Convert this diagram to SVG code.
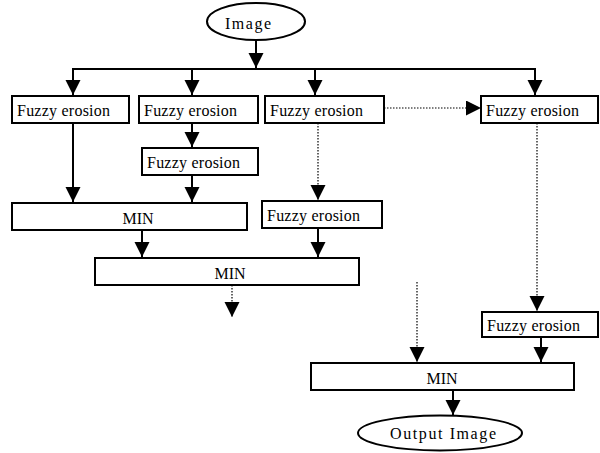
<svg xmlns="http://www.w3.org/2000/svg" width="600" height="453" viewBox="0 0 600 453">
<style>
.box{fill:#fff;stroke:#000;stroke-width:2}
.t{font-family:"Liberation Serif","Times New Roman",serif;font-size:16px;fill:#000}
.c{text-anchor:middle}
.s{stroke:#000;stroke-width:2;fill:none}
.d{stroke:#000;stroke-width:1.2;stroke-dasharray:1.5,1.5;fill:none}
</style>
<defs>
<marker id="ah" markerUnits="userSpaceOnUse" markerWidth="16" markerHeight="16" refX="15" refY="7.5" orient="auto">
<path d="M0,0 L15,7.5 L0,15 z" fill="#000"/>
</marker>
</defs>
<rect width="600" height="453" fill="#fff"/>
<g id="connectors">
<line class="s" x1="256" y1="40" x2="256" y2="68" marker-end="url(#ah)"/>
<line class="s" x1="72" y1="69" x2="536" y2="69"/>
<line class="s" x1="73" y1="69" x2="73" y2="95" marker-end="url(#ah)"/>
<line class="s" x1="192" y1="69" x2="192" y2="95" marker-end="url(#ah)"/>
<line class="s" x1="315" y1="69" x2="315" y2="95" marker-end="url(#ah)"/>
<line class="s" x1="535" y1="69" x2="535" y2="95" marker-end="url(#ah)"/>
<line class="s" x1="73" y1="123" x2="73" y2="202" marker-end="url(#ah)"/>
<line class="s" x1="192" y1="123" x2="192" y2="147" marker-end="url(#ah)"/>
<line class="s" x1="192" y1="175" x2="192" y2="202" marker-end="url(#ah)"/>
<line class="d" x1="384" y1="108" x2="481" y2="108" marker-end="url(#ah)"/>
<line class="d" x1="318" y1="123" x2="318" y2="200" marker-end="url(#ah)"/>
<line class="s" x1="318" y1="228" x2="318" y2="257" marker-end="url(#ah)"/>
<line class="s" x1="142" y1="230" x2="142" y2="257" marker-end="url(#ah)"/>
<line class="d" x1="232" y1="285" x2="232" y2="317" marker-end="url(#ah)"/>
<line class="d" x1="417" y1="282" x2="417" y2="362" marker-end="url(#ah)"/>
<line class="d" x1="537" y1="123" x2="537" y2="311" marker-end="url(#ah)"/>
<line class="s" x1="541" y1="337" x2="541" y2="362" marker-end="url(#ah)"/>
<line class="s" x1="453" y1="390" x2="453" y2="415" marker-end="url(#ah)"/>
</g>
<g id="image">
<ellipse class="box" cx="256" cy="21.5" rx="49" ry="18.5"/>
<text class="t c" x="248" y="29" font-size="18" textLength="46">Image</text>
</g>
<g id="fe1">
<rect class="box" x="12" y="96" width="117" height="27"/>
<text class="t" x="17" y="116" textLength="93">Fuzzy erosion</text>
</g>
<g id="fe2">
<rect class="box" x="139" y="96" width="119" height="27"/>
<text class="t" x="144" y="116" textLength="93">Fuzzy erosion</text>
</g>
<g id="fe3">
<rect class="box" x="265" y="96" width="119" height="27"/>
<text class="t" x="270" y="116" textLength="93">Fuzzy erosion</text>
</g>
<g id="fe4">
<rect class="box" x="481" y="96" width="117" height="27"/>
<text class="t" x="486" y="116" textLength="93">Fuzzy erosion</text>
</g>
<g id="fe2b">
<rect class="box" x="142" y="148" width="116" height="27"/>
<text class="t" x="147" y="168" textLength="93">Fuzzy erosion</text>
</g>
<g id="min1">
<rect class="box" x="12" y="203" width="235" height="27"/>
<text class="t c" x="138" y="224">MIN</text>
</g>
<g id="fe3b">
<rect class="box" x="262" y="201" width="120" height="27"/>
<text class="t" x="267" y="221" textLength="93">Fuzzy erosion</text>
</g>
<g id="min2">
<rect class="box" x="95" y="258" width="264" height="27"/>
<text class="t c" x="230" y="279">MIN</text>
</g>
<g id="fe4b">
<rect class="box" x="482" y="312" width="116" height="25"/>
<text class="t" x="487" y="331" textLength="93">Fuzzy erosion</text>
</g>
<g id="min3">
<rect class="box" x="311" y="363" width="263" height="27"/>
<text class="t c" x="442" y="384">MIN</text>
</g>
<g id="output">
<ellipse class="box" cx="440" cy="433" rx="82" ry="17.5"/>
<text class="t c" x="443" y="439" textLength="106">Output Image</text>
</g>
</svg>
